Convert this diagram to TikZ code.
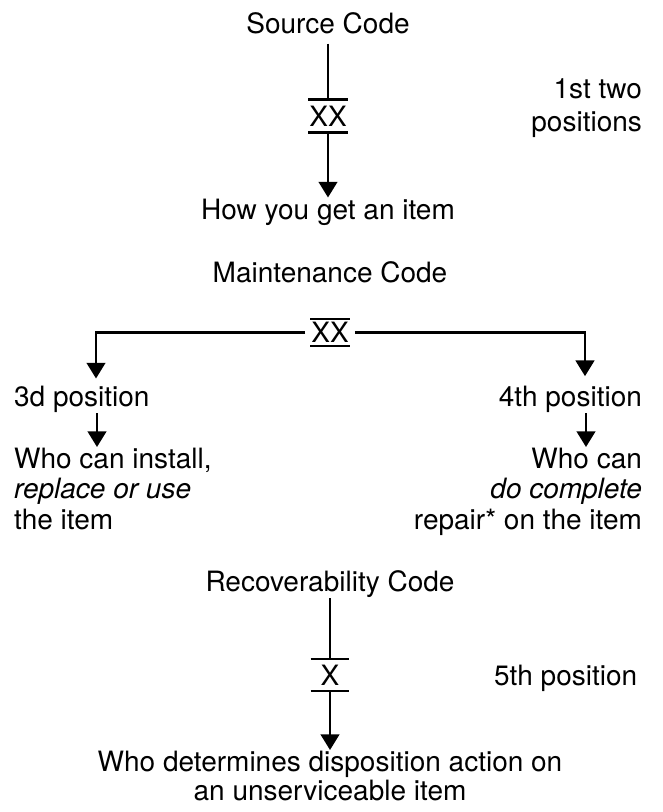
\documentclass[tikz,border=0pt]{standalone}
\usepackage{fontspec}
\setmainfont{TeX Gyre Heros}
\usetikzlibrary{arrows.meta}

\begin{document}
\begin{tikzpicture}[x=0.03cm,y=-0.03cm,line width=1.9pt,
  txt/.style={inner sep=0,font=\fontsize{23.9}{26}\selectfont},
  code/.style={txt,minimum width=1.1cm,text height=0.6cm,text depth=0cm},
  tip/.style={-{Triangle[width=0.56cm,length=0.47cm]}}]
\useasboundingbox (0,0) rectangle (662,812);

% source code
\node[txt,anchor=base] (src) at (328,33) {Source Code};
\node[code,inner ysep=0.16cm] (sxx) at (328,116) {XX};
\node[txt,anchor=base] (how) at (328,219) {How you get an item};
\node[txt,anchor=north east,align=right,font=\fontsize{23.9}{27.5}\selectfont]
  (pos12) at (643,78) {1st two\\positions};

% maintenance code
\node[txt,anchor=base] (mnt) at (330,282) {Maintenance Code};
\node[code,inner ysep=0.075cm] (mxx) at (330,332.5) {XX};
\node[txt,anchor=base west] (thr) at (13,406) {3d position};
\node[txt,anchor=base east] (fou) at (643,406) {4th position};
\node[txt,anchor=north west,align=left] (ins) at (13,447) {Who can install,\\\textit{replace or use}\\the item};
\node[txt,anchor=north east,align=right] (rep) at (643,447) {Who can\\\textit{do complete}\\repair* on the item};

% recoverability code
\node[txt,anchor=base] (rec) at (330,591) {Recoverability Code};
\node[code,inner ysep=0.15cm] (rxx) at (330,675) {X};
\node[txt,anchor=base west] (fif) at (493,685) {5th position};
\node[txt,anchor=north,align=center,font=\fontsize{23.9}{24.7}\selectfont]
  (dis) at (330,750) {Who determines disposition action on\\an unserviceable item};

\foreach \n in {sxx,mxx,rxx}
{
        \draw (\n.north west) -- (\n.north east) (\n.south west) -- (\n.south east);
}

\draw[shorten <=0.27cm] (src) -- (sxx);
\draw[tip] (sxx) -- (how);
\draw[tip] ([xshift=-0.15cm]mxx.west) -| ([xshift=2.49cm,yshift=0.18cm]thr.north west);
\draw[tip] ([xshift=0.15cm]mxx.east) -| ([xshift=-1.74cm,yshift=0.25cm]fou.north east);
\draw[tip] ([xshift=2.52cm]thr.south west) -- ([xshift=2.52cm]ins.north west);
\draw[tip] ([xshift=-1.71cm]fou.south east) -- ([xshift=-1.71cm]rep.north east);
\draw (rec) -- (rxx);
\draw[tip] (rxx) -- (dis);
\end{tikzpicture}
\end{document}
